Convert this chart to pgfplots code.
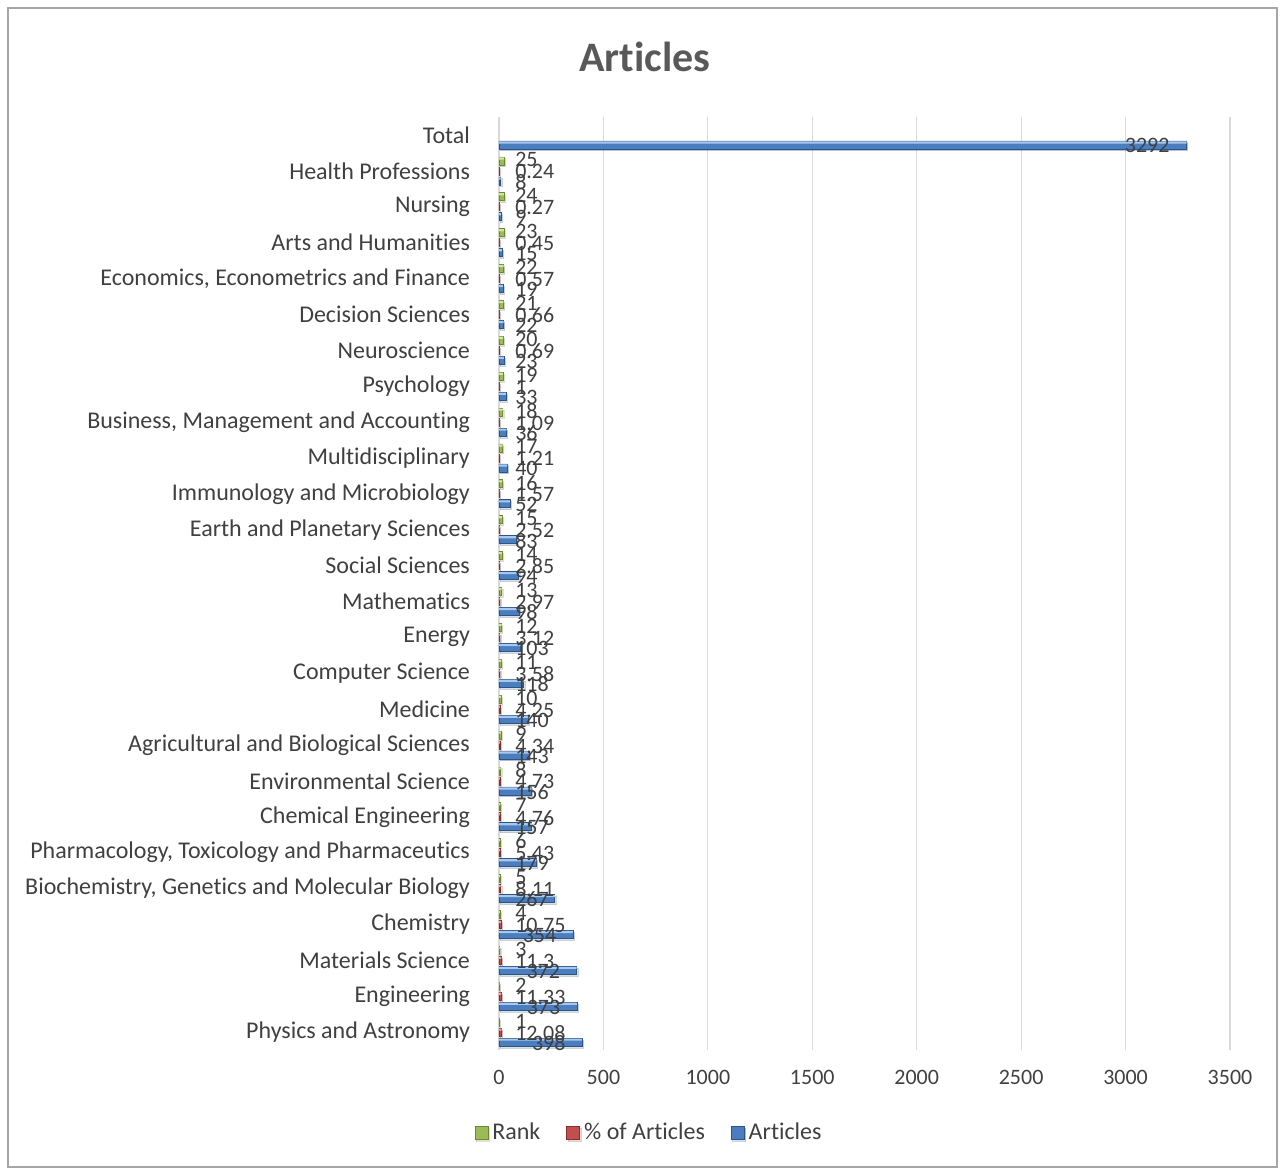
\documentclass[border=0pt]{standalone}
\usepackage{pgfplots}
\pgfplotsset{compat=1.18}
\usepackage{pgfplotstable}
\usetikzlibrary{shadows}
\usepackage{fontspec}
\setmainfont{Carlito}[Ligatures=NoCommon]
\definecolor{txt}{HTML}{404040}
\definecolor{ttl}{HTML}{595959}
\definecolor{gridc}{HTML}{D9D9D9}
\definecolor{bord}{HTML}{A6A6A6}
\definecolor{bL}{HTML}{A9C8EE}
\definecolor{bM}{HTML}{4A7EBF}
\definecolor{bD}{HTML}{2C5484}
\definecolor{rL}{HTML}{EBA9A7}
\definecolor{rM}{HTML}{C0504D}
\definecolor{rD}{HTML}{8C2E2B}
\definecolor{gL}{HTML}{D2E6A4}
\definecolor{gM}{HTML}{9BBB59}
\definecolor{gD}{HTML}{6B8A2E}

\pgfplotstableread{
y Rank Pct Articles
0 1 12.08 398
1 2 11.33 373
2 3 11.3 372
3 4 10.75 354
4 5 8.11 267
5 6 5.43 179
6 7 4.76 157
7 8 4.73 156
8 9 4.34 143
9 10 4.25 140
10 11 3.58 118
11 12 3.12 103
12 13 2.97 98
13 14 2.85 94
14 15 2.52 83
15 16 1.57 52
16 17 1.21 40
17 18 1.09 36
18 19 1 33
19 20 0.69 23
20 21 0.66 22
21 22 0.57 19
22 23 0.45 15
23 24 0.27 9
24 25 0.24 8
25 nan nan 3292
}\datatable

\newcommand{\lblfont}{\fontsize{12}{14}\selectfont}
\newcommand{\numfont}{\fontsize{11}{13}\selectfont}

\begin{document}
\begin{tikzpicture}
\useasboundingbox (0,0) rectangle (641pt,585.5pt);
\draw[color=bord, line width=0.6pt] (4pt,2pt) rectangle (638.5pt,581.5pt);
\node[font=\bfseries\fontsize{21}{25}\selectfont, text=ttl] at (322.5pt,557pt) {Articles};
\begin{axis}[
  at={(249.5pt,60.5pt)}, anchor=south west,
  scale only axis, width=365.5pt, height=466.5pt,
  xmin=0, xmax=3500, ymin=-0.5, ymax=25.5,
  axis line style={draw=none},
  tick style={draw=none},
  xmajorgrids, major grid style={color=gridc, line width=0.6pt},
  xtick={0,500,...,3500},
  ytick={0,...,25},
  yticklabels={Physics and Astronomy, Engineering, Materials Science, Chemistry,
    {Biochemistry, Genetics and Molecular Biology},
    {Pharmacology, Toxicology and Pharmaceutics},
    Chemical Engineering, Environmental Science, Agricultural and Biological Sciences,
    Medicine, Computer Science, Energy, Mathematics, Social Sciences,
    Earth and Planetary Sciences, Immunology and Microbiology, Multidisciplinary,
    {Business, Management and Accounting}, Psychology, Neuroscience, Decision Sciences,
    {Economics, Econometrics and Finance}, Arts and Humanities, Nursing,
    Health Professions, Total},
  /pgf/number format/assume math mode=true,
  /pgf/number format/1000 sep={},
  xticklabel style={font=\numfont, text=txt, yshift=-6.5pt},
  yticklabel style={font=\lblfont, text=txt, xshift=-11pt},
  legend style={at={(0.2066,-0.0888)}, anchor=center, draw=none, fill=none,
    legend columns=3, font=\lblfont, text=txt,
    /tikz/every even column/.append style={column sep=11pt}},
  legend image code/.code={\draw[#1, line width=0.4pt] (0pt,-3.2pt) rectangle (6.5pt,3.2pt);},
  clip=false,
]
% Rank
\addplot[xbar, bar width=4pt, bar shift=5pt, draw=gD, line width=0.3pt, fill=gM,
  drop shadow={opacity=0.25, shadow xshift=0.6pt, shadow yshift=-0.9pt},
  nodes near coords, point meta=explicit symbolic,
  visualization depends on={\thisrow{Rank} \as \v},
  every node near coord/.append style={anchor=west, font=\numfont, text=txt,
    inner sep=0pt, yshift=5.5pt, xshift={(8-\v*0.10443)*1pt}}]
  table[x=Rank, y=y, meta=Rank]{\datatable};
\addlegendentry{Rank}
% % of Articles
\addplot[xbar, bar width=4pt, bar shift=0pt, draw=rD, line width=0.3pt, fill=rM,
  drop shadow={opacity=0.25, shadow xshift=0.6pt, shadow yshift=-0.9pt},
  nodes near coords, point meta=explicit symbolic,
  visualization depends on={\thisrow{Pct} \as \v},
  every node near coord/.append style={anchor=west, font=\numfont, text=txt,
    inner sep=0pt, yshift=-0.5pt, xshift={(8-\v*0.10443)*1pt}}]
  table[x=Pct, y=y, meta=Pct]{\datatable};
\addlegendentry{\% of Articles}
% Articles
\addplot[xbar, bar width=4pt, bar shift=-5pt, draw=bD, line width=0.3pt, fill=bM,
  drop shadow={opacity=0.25, shadow xshift=0.6pt, shadow yshift=-0.9pt},
  nodes near coords, point meta=explicit symbolic,
  visualization depends on={\thisrow{Articles} \as \v},
  every node near coord/.append style={anchor=west, font=\numfont, text=txt,
    inner sep=0pt, yshift=-5.5pt, xshift={max(8-\v*0.10443, ifthenelse(\v>999,-31,-25.2))*1pt}}]
  table[x=Articles, y=y, meta=Articles]{\datatable};
\addlegendentry{Articles}
% bevel highlights (same data, thin light stripe along the top of each bar)
\addplot[xbar, forget plot, bar width=1.1pt, bar shift=6.2pt, draw=none, fill=gL]
  table[x=Rank, y=y]{\datatable};
\addplot[xbar, forget plot, bar width=1.1pt, bar shift=1.2pt, draw=none, fill=rL]
  table[x=Pct, y=y]{\datatable};
\addplot[xbar, forget plot, bar width=1.1pt, bar shift=-3.8pt, draw=none, fill=bL]
  table[x=Articles, y=y]{\datatable};
\end{axis}
\end{tikzpicture}
\end{document}
